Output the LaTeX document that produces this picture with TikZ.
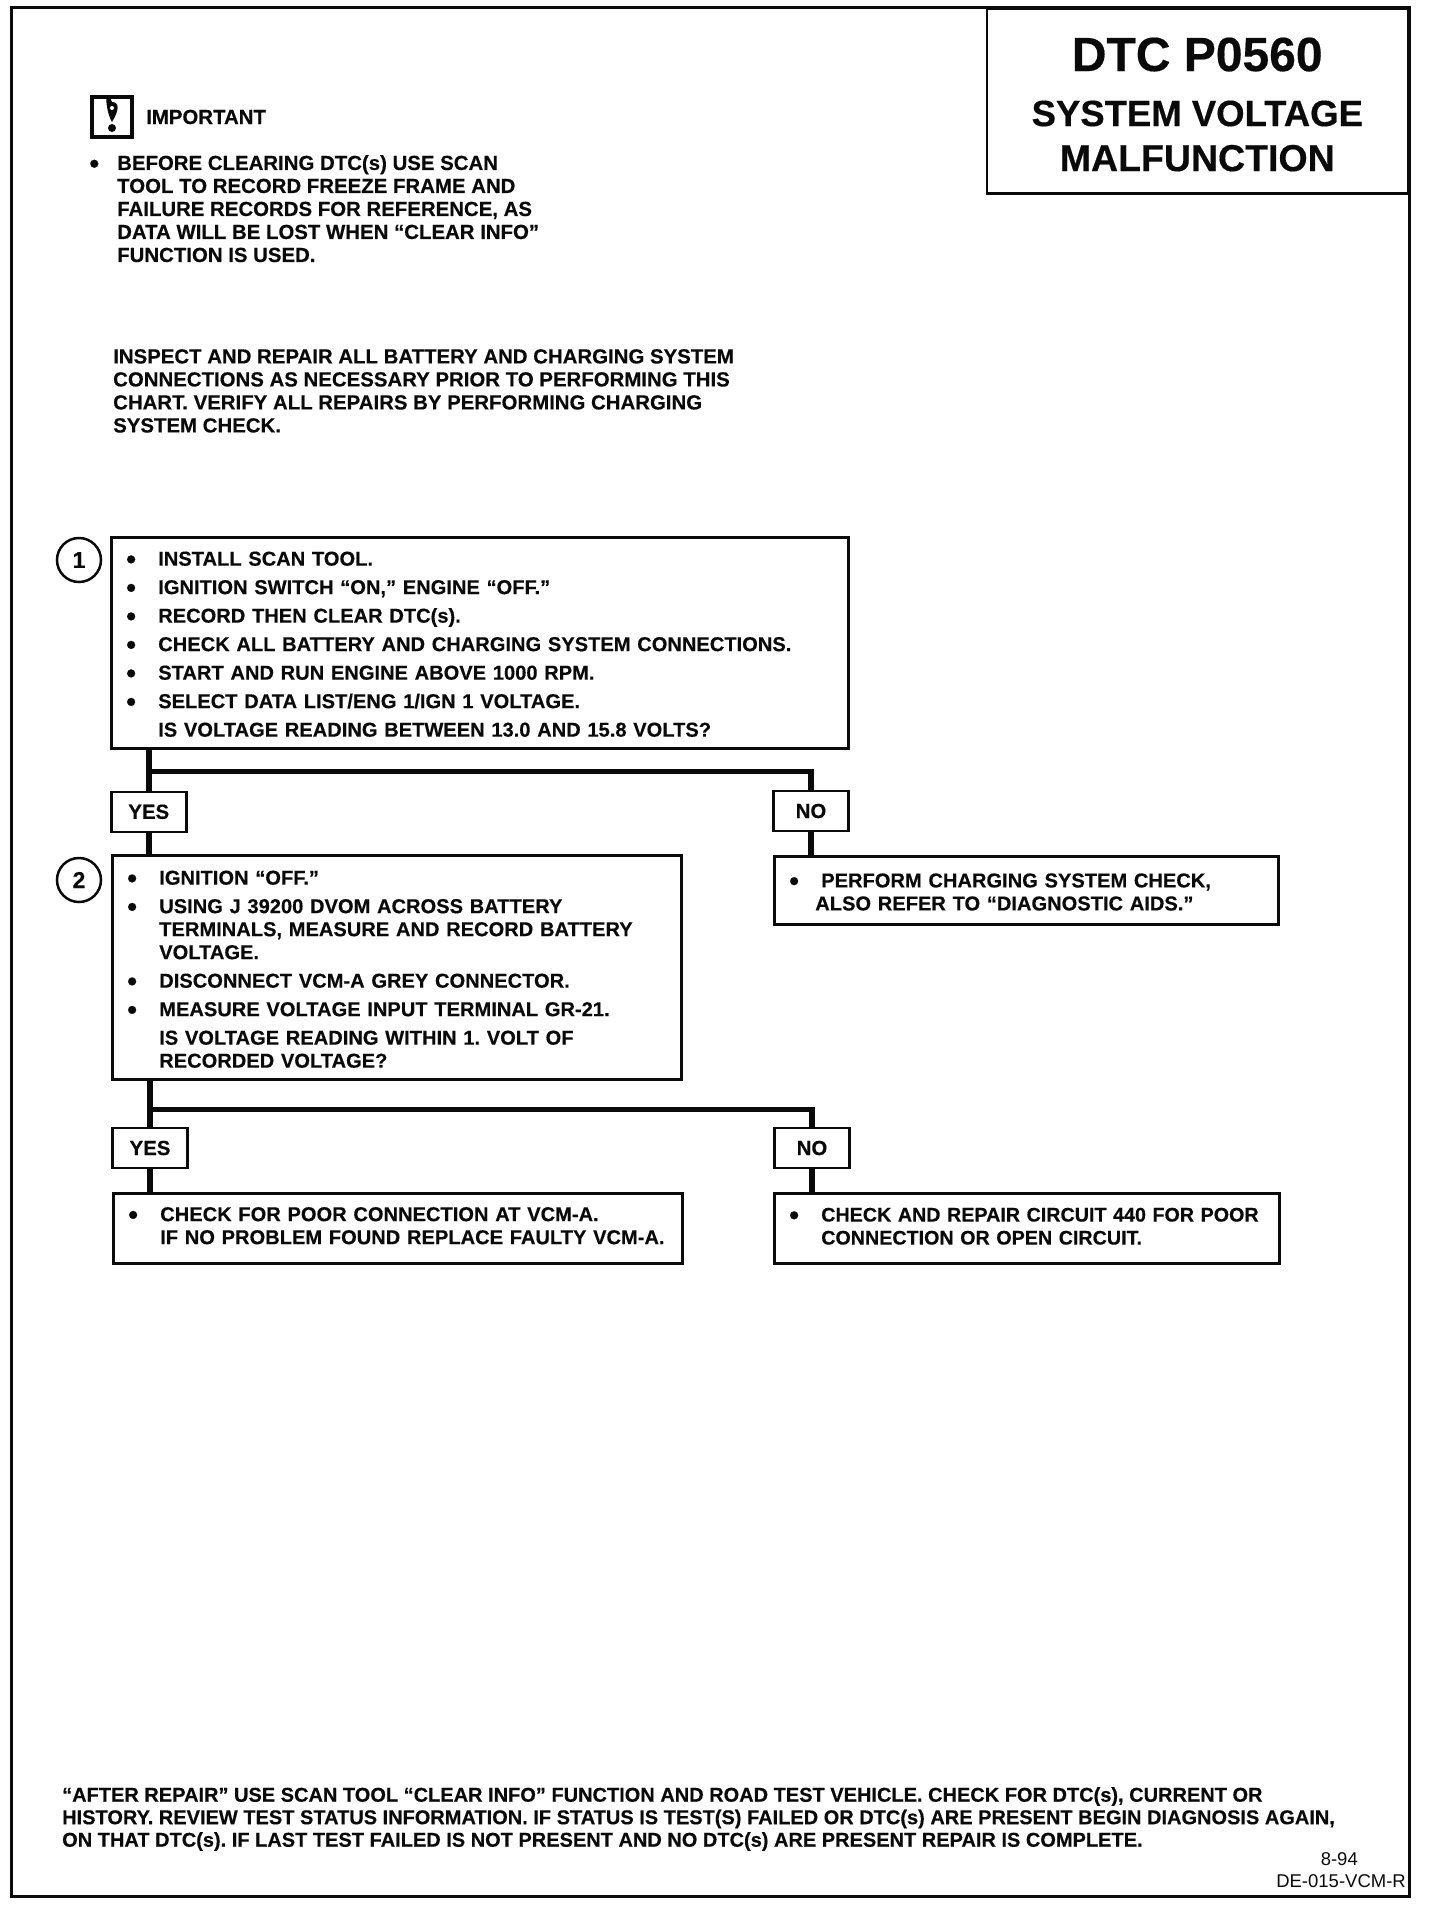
\documentclass[tikz,border=0pt]{standalone}
\usepackage{fontspec}
\usepackage{xcolor}
\usepackage{tikz}
\usetikzlibrary{positioning, calc}
\setmainfont{Liberation Sans}[BoldFont=Liberation Sans Bold, BoldFeatures={FakeBold=0.4}]
\frenchspacing
\definecolor{cInk}{RGB}{10,10,10}
\newcommand{\blt}{\raisebox{-3pt}{\fontsize{28}{28}\selectfont\textbullet}}
\newcommand{\itm}{\hspace*{15pt}\makebox[32pt][l]{\blt}}
\newcommand{\more}{\hspace*{47pt}}
\tikzset{
	every node/.style={font=\fontsize{20.4}{23}\selectfont\bfseries, text=cInk},
	chartbox/.style ={rectangle, draw=cInk, line width=2.5pt, align=left, anchor=north west, inner sep=0pt, font=\fontsize{20.1}{23}\selectfont\bfseries},
	answer/.style   ={rectangle, draw=cInk, line width=2.5pt, minimum width=75pt, minimum height=40pt, inner sep=0pt},
	stepnum/.style  ={circle, draw=cInk, line width=2.5pt, minimum size=44pt, inner sep=0pt, font=\fontsize{23}{23}\selectfont\bfseries},
	note/.style     ={align=left, anchor=north west, inner sep=0pt},
	flow/.style     ={draw=cInk, line width=5.5pt},
}
\begin{document}
\begin{tikzpicture}[x=1pt, y=-1pt, node distance=20pt]
	\useasboundingbox (0,0) rectangle (1440,1906);
	% outer frame and title block
	\draw[draw=cInk, line width=3pt] (11,7) rectangle (1409,1896);
	\node[rectangle, draw=cInk, line width=2.5pt, anchor=north east, minimum width=421pt, minimum height=185pt, align=center, inner sep=0pt, font=\fontsize{36.5}{45}\selectfont\bfseries] (title) at (1409,7)
		{{\fontsize{48}{45}\selectfont\rule{0pt}{41pt}DTC P0560}\\[10pt]SYSTEM VOLTAGE\\{\fontsize{37.5}{45}\selectfont MALFUNCTION}};
	% header notes
	\node[rectangle, draw=cInk, line width=4pt, minimum width=40pt, minimum height=40pt, anchor=north west] (warn) at (90,95) {};
	\fill[cInk] ($(warn)+(0,5)$) .. controls +(-7,-11) and +(-8,-20) .. ($(warn)+(0,-15)$) .. controls +(8,0) and +(7,-11) .. ($(warn)+(0,5)$);
	\fill[white] ($(warn)+(0,-9)$) circle (2pt);
	\fill[cInk] ($(warn)+(0,11)$) circle (4pt);
	\node[note, right=12pt of warn, anchor=west] (imp) {IMPORTANT};
	\node[note] (before) at (117,155) {\leavevmode\llap{\blt\hspace{18pt}}BEFORE CLEARING DTC(s) USE SCAN\\TOOL TO RECORD FREEZE FRAME AND\\FAILURE RECORDS FOR REFERENCE, AS\\DATA WILL BE LOST WHEN ``CLEAR INFO''\\FUNCTION IS USED.};
	\node[note] (inspect) at (113,349) {INSPECT AND REPAIR ALL BATTERY AND CHARGING SYSTEM\\CONNECTIONS AS NECESSARY PRIOR TO PERFORMING THIS\\CHART. VERIFY ALL REPAIRS BY PERFORMING CHARGING\\SYSTEM CHECK.};
	% step 1
	\node[chartbox, text width=737pt, minimum height=211pt] (box1) at (110,536)
		{\rule{0pt}{17pt}\itm INSTALL SCAN TOOL.\\[5.5pt]
		\itm IGNITION SWITCH ``ON,'' ENGINE ``OFF.''\\[5.5pt]
		\itm RECORD THEN CLEAR DTC(s).\\[5.5pt]
		\itm CHECK ALL BATTERY AND CHARGING SYSTEM CONNECTIONS.\\[5.5pt]
		\itm START AND RUN ENGINE ABOVE 1000 RPM.\\[5.5pt]
		\itm SELECT DATA LIST/ENG 1/IGN 1 VOLTAGE.\\[5.5pt]
		\more IS VOLTAGE READING BETWEEN 13.0 AND 15.8 VOLTS?};
	\node[stepnum] (num1) at (79,560) {1};
	\node[answer, below=41pt of box1.south west, anchor=north west] (yes1) {YES};
	\node[answer] (no1) at (811,811) {NO};
	\node[chartbox, text width=569pt, minimum height=224pt] (box2) at (111,854)
		{\rule{0pt}{18pt}\itm IGNITION ``OFF.''\\[5.5pt]
		\itm USING J 39200 DVOM ACROSS BATTERY\\
		\more TERMINALS, MEASURE AND RECORD BATTERY\\
		\more VOLTAGE.\\[5.5pt]
		\itm DISCONNECT VCM-A GREY CONNECTOR.\\[5.5pt]
		\itm MEASURE VOLTAGE INPUT TERMINAL GR-21.\\[5.5pt]
		\more IS VOLTAGE READING WITHIN 1. VOLT OF\\
		\more RECORDED VOLTAGE?};
	\node[stepnum] (num2) at (79,880) {2};
	\node[chartbox, text width=504pt, minimum height=68pt] (act1) at (773,855)
		{\rule{0pt}{17.5pt}\itm PERFORM CHARGING SYSTEM CHECK,\\
		\hspace*{41pt}ALSO REFER TO ``DIAGNOSTIC AIDS.''};
	% step 2 answers
	\node[answer] (yes2) at (150,1148) {YES};
	\node[answer] (no2) at (812,1148) {NO};
	\node[chartbox, text width=569pt, minimum height=70pt] (act2) at (112,1192)
		{\itm CHECK FOR POOR CONNECTION AT VCM-A.\\
		\more IF NO PROBLEM FOUND REPLACE FAULTY VCM-A.\par\vspace{5pt}};
	\node[chartbox, text width=505pt, minimum height=70pt, font=\fontsize{19.7}{23}\selectfont\bfseries] (act3) at (773,1192)
		{\itm CHECK AND REPAIR CIRCUIT 440 FOR POOR\\
		\more CONNECTION OR OPEN CIRCUIT.\par\vspace{4pt}};
	% connectors
	\coordinate (tee1) at ($(box1.south west)+(37,22)$);
	\coordinate (tee2) at ($(box2.south west)+(36,29)$);
	\draw[flow] (yes1.north |- box1.south) -- (yes1.north);
	\draw[flow] (yes1.south) -- (yes1.south |- box2.north);
	\draw[flow] (yes1 |- tee1) -- (no1 |- tee1) -- (no1.north);
	\draw[flow] (no1.south) -- (no1.south |- act1.north);
	\draw[flow] (yes2.north |- box2.south) -- (yes2.north);
	\draw[flow] (yes2.south) -- (yes2.south |- act2.north);
	\draw[flow] (yes2 |- tee2) -- (no2 |- tee2) -- (no2.north);
	\draw[flow] (no2.south) -- (no2.south |- act3.north);
	% footer
	\node[note, font=\fontsize{20}{22.5}\selectfont\bfseries] (after) at (62,1787) {``AFTER REPAIR'' USE SCAN TOOL ``CLEAR INFO'' FUNCTION AND ROAD TEST VEHICLE. CHECK FOR DTC(s), CURRENT OR\\HISTORY. REVIEW TEST STATUS INFORMATION. IF STATUS IS TEST(S) FAILED OR DTC(s) ARE PRESENT BEGIN DIAGNOSIS AGAIN,\\ON THAT DTC(s). IF LAST TEST FAILED IS NOT PRESENT AND NO DTC(s) ARE PRESENT REPAIR IS COMPLETE.};
	\node[note, font=\fontsize{18.5}{22}\selectfont, anchor=north east, align=right] (code) at (1406,1852) {8-94\hspace*{48pt}\\DE-015-VCM-R};
\end{tikzpicture}
\end{document}
